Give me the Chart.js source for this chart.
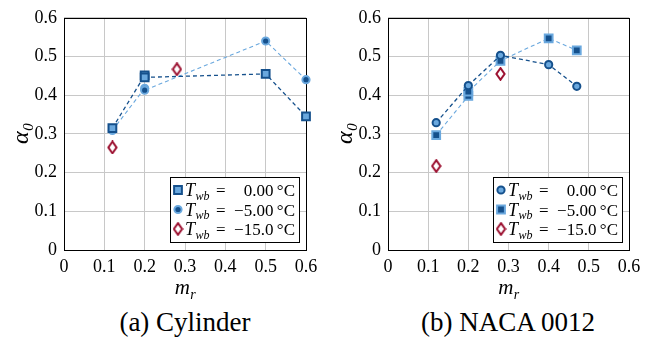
<!DOCTYPE html>
<html>
<head>
<meta charset="utf-8">
<script src="https://cdn.jsdelivr.net/npm/chart.js@4"></script>
<style>
  body { margin: 0; background: #fff; }
  #wrap { position: relative; width: 663px; height: 340px; }
  canvas { position: absolute; top: 0; }
  .cap { position: absolute; top: 308px; width: 300px; text-align: center;
         font: 27px "Liberation Serif", serif; line-height: 28px; color: #000; }
</style>
</head>
<body>
<div id="wrap">
  <canvas id="cyl" width="330" height="300" style="left:0"></canvas>
  <canvas id="naca" width="333" height="300" style="left:330px"></canvas>
  <div class="cap" style="left:35px">(a) Cylinder</div>
  <div class="cap" style="left:358px">(b) NACA 0012</div>
</div>
<script>
// values (m_r, alpha_0)
const cylT0x = [0.12, 0.2, 0.2, 0.5, 0.6]
const cylT0y = [0.315, 0.451, 0.446, 0.455, 0.345]
const cylT5x = [0.12, 0.2, 0.2, 0.5, 0.6]
const cylT5y = [0.309, 0.418, 0.413, 0.540, 0.440]
const cylT15x = [0.12, 0.28]
const cylT15y = [0.265, 0.467]

const nacaT0x = [0.12, 0.2, 0.28, 0.4, 0.47]
const nacaT0y = [0.329, 0.425, 0.503, 0.479, 0.423]
const nacaT5x = [0.12, 0.2, 0.2, 0.28, 0.4, 0.47]
const nacaT5y = [0.297, 0.398, 0.409, 0.489, 0.547, 0.516]
const nacaT15x = [0.12, 0.28]
const nacaT15y = [0.217, 0.455]

const legendTemps = ['0.00', '\u22125.00', '\u221215.0']
const axisTicks = [0, 0.1, 0.2, 0.3, 0.4, 0.5, 0.6]

const dark = '#15508c'
const light = '#6aa8de'
const red = '#9c1030'
const serif = '"Liberation Serif", serif'

// pgfplots-like diamond (taller than wide)
const diamond = document.createElement('canvas')
diamond.width = 11; diamond.height = 14
{
  const c = diamond.getContext('2d')
  c.beginPath()
  c.moveTo(5.5, 1.2); c.lineTo(9.6, 7); c.lineTo(5.5, 12.8); c.lineTo(1.4, 7); c.closePath()
  c.fillStyle = '#fff'; c.fill()
  c.lineWidth = 2; c.strokeStyle = red; c.stroke()
}

const pts = (xs, ys) => xs.map((x, i) => ({ x: x, y: ys[i] }))

// T = 0: dark outline, light fill, dark dashed line
function setT0(data, style, r) {
  return { data: data, showLine: true, borderColor: dark, borderWidth: 1.3, borderDash: [4, 3],
    pointStyle: style, pointRadius: r, pointBorderColor: dark, pointBackgroundColor: light,
    pointBorderWidth: 2, clip: false }
}
// T = -5: light outline, dark fill, light dashed line
function setT5(data, style, r) {
  return { data: data, showLine: true, borderColor: light, borderWidth: 1.1, borderDash: [4, 3],
    pointStyle: style, pointRadius: r, pointBorderColor: light, pointBackgroundColor: dark,
    pointBorderWidth: 2, clip: false }
}
function setT15(data) {
  return { data: data, showLine: false, pointStyle: diamond, pointRadius: 5, clip: false }
}

// italic letter with italic subscript
function drawSub(ctx, main, sub, x, y, size, subSize, align) {
  ctx.font = `italic ${size}px ${serif}`
  const w1 = ctx.measureText(main).width
  ctx.font = `italic ${subSize}px ${serif}`
  const w2 = ctx.measureText(sub).width
  let sx = align === 'center' ? x - (w1 + w2) / 2 : x
  ctx.textAlign = 'left'
  ctx.textBaseline = 'alphabetic'
  ctx.font = `italic ${size}px ${serif}`
  ctx.fillText(main, sx, y)
  ctx.font = `italic ${subSize}px ${serif}`
  ctx.fillText(sub, sx + w1 + 0.5, y + size * 0.22)
  return sx + w1 + w2 + 0.5
}

const frame = {
  id: 'frame',
  beforeDatasetsDraw(chart) {
    const { ctx, chartArea: a } = chart
    ctx.save()
    ctx.strokeStyle = '#000'
    ctx.lineWidth = 1
    ctx.strokeRect(Math.round(a.left) + 0.5, Math.round(a.top) + 0.5, Math.round(a.right - a.left), Math.round(a.bottom - a.top))
    ctx.restore()
  }
}

const texLegend = {
  id: 'texLegend',
  afterDatasetsDraw(chart) {
    const { ctx, chartArea: a } = chart
    const w = 129, h = 65
    const x0 = Math.round(a.right - 7 - w), y0 = Math.round(a.bottom - 8 - h)
    ctx.save()
    ctx.fillStyle = '#fff'
    ctx.fillRect(x0, y0, w, h)
    ctx.strokeStyle = '#000'
    ctx.lineWidth = 1
    ctx.strokeRect(x0 + 0.5, y0 + 0.5, w, h)
    chart.data.datasets.forEach((ds, i) => {
      const cy = y0 + 13 + i * 19.5
      const mx = x0 + 8
      if (ds.pointStyle === diamond) {
        ctx.drawImage(diamond, mx - diamond.width / 2, cy - diamond.height / 2)
      } else {
        ctx.fillStyle = ds.pointBackgroundColor
        ctx.strokeStyle = ds.pointBorderColor
        ctx.lineWidth = ds.pointBorderWidth
        Chart.helpers.drawPoint(ctx, { pointStyle: ds.pointStyle, radius: ds.pointRadius, borderWidth: ds.pointBorderWidth, rotation: 0 }, mx, cy)
      }
      ctx.fillStyle = '#000'
      const base = cy + 6
      drawSub(ctx, 'T', 'wb', x0 + 15, base, 18, 12, 'left')
      ctx.font = `17px ${serif}`
      ctx.textAlign = 'left'
      ctx.fillText('=', x0 + 46, base)
      ctx.textAlign = 'right'
      ctx.fillText(legendTemps[i] + '\u2009\u00b0C', x0 + w - 4, base)
    })
    ctx.restore()
  }
}

const axisTitles = {
  id: 'axisTitles',
  afterDraw(chart) {
    const { ctx, chartArea: a } = chart
    ctx.save()
    ctx.fillStyle = '#000'
    drawSub(ctx, 'm', 'r', (a.left + a.right) / 2, 294, 21, 14, 'center')
    ctx.translate(a.left - 36, (a.top + a.bottom) / 2)
    ctx.rotate(-Math.PI / 2)
    drawSub(ctx, '\u03b1', '0', 0, 0, 24, 15, 'center')
    ctx.restore()
  }
}

function makeChart(id, sets, left, right) {
  const cv = document.getElementById(id)
  const tickFmt = v => v === 0 ? '0' : v.toFixed(1)
  return new Chart(cv, {
    type: 'scatter',
    data: { datasets: sets },
    options: {
      responsive: false,
      animation: false,
      devicePixelRatio: 1,
      layout: { autoPadding: false, padding: { top: 8, right: cv.width - right, left: 0, bottom: 0 } },
      plugins: { legend: { display: false }, tooltip: { enabled: false } },
      scales: {
        x: {
          type: 'linear', min: 0, max: 0.6,
          afterBuildTicks: s => { s.ticks = axisTicks.map(v => ({ value: v })) },
          afterFit: s => { s.height = cv.height - 250 },
          ticks: { callback: tickFmt, color: '#000', padding: 6, maxRotation: 0, font: { family: serif, size: 18 } },
          grid: { color: '#c8c8c8', lineWidth: 1, drawTicks: false },
          border: { display: false }
        },
        y: {
          type: 'linear', min: 0, max: 0.6,
          afterBuildTicks: s => { s.ticks = axisTicks.map(v => ({ value: v })) },
          afterFit: s => { s.width = left },
          ticks: { callback: tickFmt, color: '#000', padding: 7, font: { family: serif, size: 18 } },
          grid: { color: '#c8c8c8', lineWidth: 1, drawTicks: false },
          border: { display: false }
        }
      }
    },
    plugins: [frame, texLegend, axisTitles]
  })
}

makeChart('cyl', [
  setT0(pts(cylT0x, cylT0y), 'rect', 5.5),
  setT5(pts(cylT5x, cylT5y), 'circle', 3.6),
  setT15(pts(cylT15x, cylT15y))
], 64, 306)

makeChart('naca', [
  setT0(pts(nacaT0x, nacaT0y), 'circle', 3.6),
  setT5(pts(nacaT5x, nacaT5y), 'rect', 5.5),
  setT15(pts(nacaT15x, nacaT15y))
], 58, 299)
</script>
</body>
</html>
